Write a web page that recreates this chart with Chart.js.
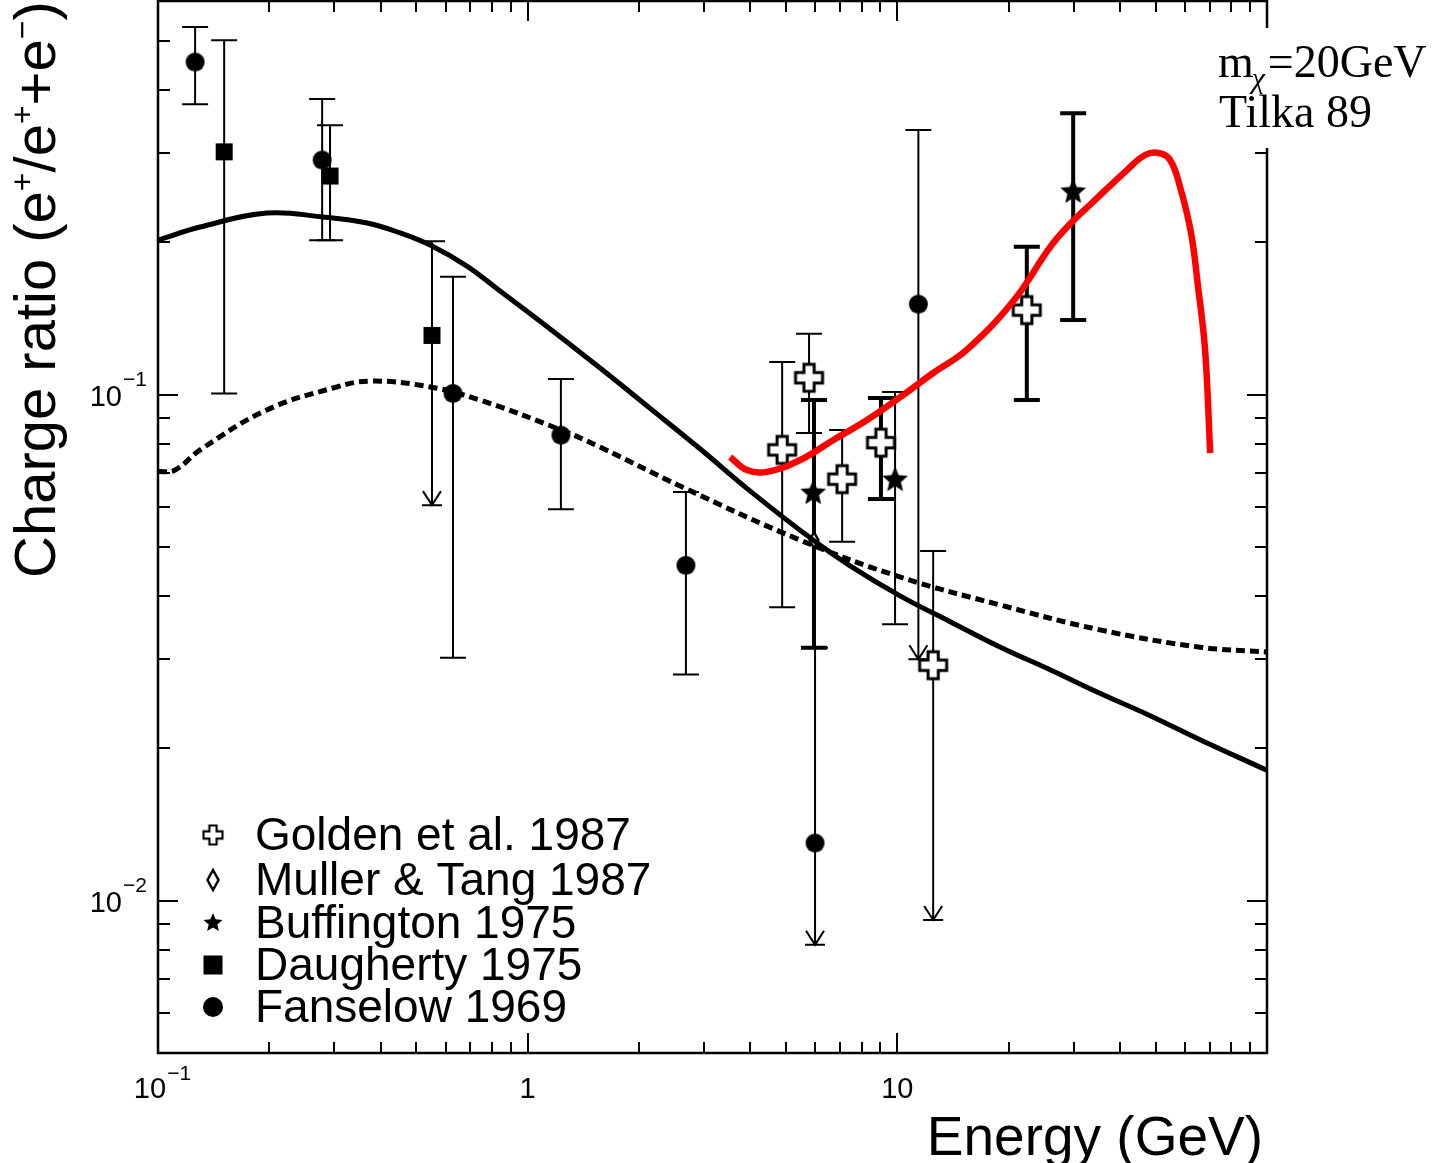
<!DOCTYPE html>
<html>
<head>
<meta charset="utf-8">
<script src="https://cdn.jsdelivr.net/npm/chart.js@4.4.0/dist/chart.umd.min.js"></script>
<style>
  html, body { margin: 0; padding: 0; background: #fff; }
</style>
</head>
<body>
<canvas id="chargeRatioChart" width="1434" height="1163"></canvas>
<script>
// ---- model curves (energy in GeV, charge ratio e+/(e+ + e-)) ----
const solidE = [0.1, 0.13, 0.197, 0.279, 0.368, 0.452, 0.551, 0.685, 0.842, 1.15, 1.57, 2.14, 2.93, 4.0, 5.92, 7.45, 10.2, 13.9, 19.0, 25.9, 35.3, 48.3, 65.9, 100];
const solidR = [0.2021, 0.2145, 0.2286, 0.2245, 0.2184, 0.2088, 0.1968, 0.1796, 0.1603, 0.1349, 0.1129, 0.0941, 0.0781, 0.0645, 0.0516, 0.0459, 0.04, 0.0356, 0.0317, 0.0286, 0.0257, 0.0232, 0.0208, 0.0181];

const dashedE = [0.1, 0.111, 0.13, 0.197, 0.2975, 0.375, 0.545, 0.743, 1.23, 1.57, 2.63, 5.46, 10.2, 19.0, 35.3, 65.9, 100];
const dashedR = [0.0705, 0.0709, 0.0778, 0.0933, 0.1031, 0.1064, 0.1036, 0.0976, 0.0852, 0.0788, 0.0656, 0.0516, 0.0436, 0.0384, 0.0343, 0.0317, 0.031];

// red curve: m_chi = 20 GeV (Tilka 89)
const redE = [3.53, 3.92, 4.44, 5.46, 6.7, 8.28, 10.2, 12.5, 15.4, 20.7, 25.9, 29.5, 33.6, 41.8, 46.8, 51.0, 54.7, 58.2, 62.3, 65.1, 68.0, 70.2];
const redR = [0.0753, 0.071, 0.0704, 0.0743, 0.0813, 0.0891, 0.099, 0.1104, 0.1226, 0.1539, 0.1958, 0.2185, 0.2393, 0.278, 0.2977, 0.3004, 0.291, 0.2573, 0.2088, 0.1632, 0.1226, 0.0767];

// ---- measurements ----
const goldenE = [4.88, 5.77, 7.09, 9.03, 12.5, 22.4];
const goldenR = [0.0778, 0.108, 0.0681, 0.0804, 0.0292, 0.147];
const goldenLo = [0.038, 0.084, 0.0512, 0.0622, 0.00916, 0.0976];
const goldenHi = [0.116, 0.132, 0.0852, 0.0985, 0.0491, 0.196];
const goldenLimit = [false, false, false, false, true, false];
const goldenThick = [false, false, false, true, false, true];

const mullerE = [5.95];
const mullerR = [0.0516];
const mullerLo = [0.0316];
const mullerHi = [0.0976];
const mullerLimit = [false];
const mullerThick = [true];

const buffE = [5.92, 9.86, 29.9];
const buffR = [0.0639, 0.0678, 0.2516];
const buffLo = [null, 0.0352, 0.1405];
const buffHi = [null, 0.1012, 0.36];
const buffLimit = [false, false, false];
const buffThick = [false, false, true];

const daughE = [0.151, 0.292, 0.551];
const daughR = [0.302, 0.2705, 0.131];
const daughLo = [0.1006, 0.202, 0.0605];
const daughHi = [0.502, 0.341, 0.201];
const daughLimit = [false, false, true];
const daughThick = [false, false, false];

const fanE = [0.126, 0.278, 0.628, 1.23, 2.68, 5.99, 11.4];
const fanR = [0.4545, 0.291, 0.1006, 0.0832, 0.046, 0.013, 0.151];
const fanLo = [0.375, 0.202, 0.0302, 0.0594, 0.028, 0.00818, 0.03];
const fanHi = [0.533, 0.384, 0.171, 0.1074, 0.0642, 0.0316, 0.3335];
const fanLimit = [false, false, false, false, false, true, true];
const fanThick = [false, false, false, false, false, false, false];

// axis
const xMin = 0.1, xMax = 100;
const yMin = 0.005, yMax = 0.6;
const xTickLabels = [{ v: 0.1, base: '10', sup: '\u22121' }, { v: 1, base: '1', sup: '' }, { v: 10, base: '10', sup: '' }];
const yTickLabels = [{ v: 0.1, base: '10', sup: '\u22121' }, { v: 0.01, base: '10', sup: '\u22122' }];

const SANS = '"Liberation Sans", Arial, sans-serif';
const SERIF = '"Liberation Serif", "Times New Roman", serif';

function pts(xs, ys) {
  return xs.map((x, i) => ({ x: x, y: ys[i] }));
}

// little canvases used as point styles
function makeSymbol(kind, size) {
  const c = document.createElement('canvas');
  c.width = size + 6;
  c.height = size + 6;
  const g = c.getContext('2d');
  const cx = c.width / 2, cy = c.height / 2, r = size / 2;
  g.fillStyle = '#000';
  g.strokeStyle = '#000';
  if (kind === 'circle') {
    g.beginPath();
    g.arc(cx, cy, r, 0, Math.PI * 2);
    g.fill();
  } else if (kind === 'square') {
    g.fillRect(cx - r, cy - r, size, size);
  } else if (kind === 'cross') {
    const a = size * 0.19;
    g.beginPath();
    g.moveTo(cx - a, cy - r); g.lineTo(cx + a, cy - r); g.lineTo(cx + a, cy - a);
    g.lineTo(cx + r, cy - a); g.lineTo(cx + r, cy + a); g.lineTo(cx + a, cy + a);
    g.lineTo(cx + a, cy + r); g.lineTo(cx - a, cy + r); g.lineTo(cx - a, cy + a);
    g.lineTo(cx - r, cy + a); g.lineTo(cx - r, cy - a); g.lineTo(cx - a, cy - a);
    g.closePath();
    g.fillStyle = '#fff';
    g.fill();
    g.lineWidth = Math.max(2, size / 9);
    g.stroke();
  } else if (kind === 'star') {
    g.beginPath();
    for (let i = 0; i < 10; i++) {
      const rr = i % 2 === 0 ? r : r * 0.45;
      const ang = -Math.PI / 2 + i * Math.PI / 5;
      const px = cx + rr * Math.cos(ang), py = cy + rr * Math.sin(ang);
      if (i === 0) g.moveTo(px, py); else g.lineTo(px, py);
    }
    g.closePath();
    g.fill();
  } else if (kind === 'diamond') {
    g.beginPath();
    g.moveTo(cx, cy - r); g.lineTo(cx + r * 0.55, cy);
    g.lineTo(cx, cy + r); g.lineTo(cx - r * 0.55, cy);
    g.closePath();
    g.fillStyle = '#fff';
    g.fill();
    g.lineWidth = 2.5;
    g.stroke();
  }
  return c;
}

const markerSeries = [
  { label: 'Golden et al. 1987', symbol: 'cross', size: 27, legendSize: 19, E: goldenE, R: goldenR, lo: goldenLo, hi: goldenHi, limit: goldenLimit, thick: goldenThick },
  { label: 'Muller & Tang 1987', symbol: 'diamond', size: 16, legendSize: 20, E: mullerE, R: mullerR, lo: mullerLo, hi: mullerHi, limit: mullerLimit, thick: mullerThick },
  { label: 'Buffington 1975', symbol: 'star', size: 27, legendSize: 20, E: buffE, R: buffR, lo: buffLo, hi: buffHi, limit: buffLimit, thick: buffThick },
  { label: 'Daugherty 1975', symbol: 'square', size: 17, legendSize: 19, E: daughE, R: daughR, lo: daughLo, hi: daughHi, limit: daughLimit, thick: daughThick },
  { label: 'Fanselow 1969', symbol: 'circle', size: 19, legendSize: 20, E: fanE, R: fanR, lo: fanLo, hi: fanHi, limit: fanLimit, thick: fanThick }
];

// index 0 is painted last (on top)
const datasets = [
  {
    label: 'm\u03c7=20GeV Tilka 89',
    type: 'line',
    data: pts(redE, redR),
    borderColor: '#ff0000',
    borderWidth: 6.5,
    pointRadius: 0,
    tension: 0.4,
    fill: false
  },
  {
    label: 'solid model',
    type: 'line',
    data: pts(solidE, solidR),
    borderColor: '#000',
    borderWidth: 5,
    pointRadius: 0,
    tension: 0.4,
    fill: false
  },
  {
    label: 'dashed model',
    type: 'line',
    data: pts(dashedE, dashedR),
    borderColor: '#000',
    borderWidth: 5,
    borderDash: [9, 5],
    pointRadius: 0,
    tension: 0.4,
    fill: false
  }
];
markerSeries.forEach(s => {
  datasets.push({
    label: s.label,
    type: 'scatter',
    data: pts(s.E, s.R),
    pointStyle: makeSymbol(s.symbol, s.size),
    pointRadius: s.size / 2,
    borderWidth: 0
  });
});

function minorValues(lo, hi) {
  const out = [];
  for (let e = Math.floor(Math.log10(lo)); e <= Math.ceil(Math.log10(hi)); e++) {
    for (let m = 1; m <= 9; m++) {
      const v = m * Math.pow(10, e);
      if (v >= lo * 0.999 && v <= hi * 1.001) out.push({ v: v, major: m === 1 });
    }
  }
  return out;
}

const chartDecor = {
  id: 'chartDecor',
  beforeDraw(chart) {
    const ctx = chart.ctx;
    ctx.save();
    ctx.fillStyle = '#fff';
    ctx.fillRect(0, 0, chart.width, chart.height);
    ctx.restore();
  },
  beforeDatasetsDraw(chart) {
    const ctx = chart.ctx;
    const xs = chart.scales.x, ys = chart.scales.y;
    const a = chart.chartArea;
    ctx.save();
    ctx.beginPath();
    ctx.rect(a.left, a.top, a.right - a.left, a.bottom - a.top);
    ctx.clip();
    ctx.strokeStyle = '#000';
    markerSeries.forEach(s => {
      s.E.forEach((e, i) => {
        if (s.lo[i] == null) return;
        const px = xs.getPixelForValue(e);
        const yHi = ys.getPixelForValue(s.hi[i]);
        const yLo = ys.getPixelForValue(s.lo[i]);
        ctx.lineWidth = s.thick[i] ? 4 : 2;
        ctx.beginPath();
        ctx.moveTo(px, yHi); ctx.lineTo(px, yLo);
        ctx.moveTo(px - 13, yHi); ctx.lineTo(px + 13, yHi);
        if (s.limit[i]) {
          ctx.moveTo(px - 10, yLo); ctx.lineTo(px + 10, yLo);
          ctx.moveTo(px - 9, yLo - 14); ctx.lineTo(px, yLo); ctx.lineTo(px + 9, yLo - 14);
        } else {
          ctx.moveTo(px - 13, yLo); ctx.lineTo(px + 13, yLo);
        }
        ctx.stroke();
      });
    });
    ctx.restore();
  },
  afterDatasetsDraw(chart) {
    const ctx = chart.ctx;
    const xs = chart.scales.x, ys = chart.scales.y;
    const a = chart.chartArea;
    ctx.save();
    ctx.strokeStyle = '#000';
    ctx.fillStyle = '#000';

    // frame
    ctx.lineWidth = 2.5;
    ctx.strokeRect(a.left, a.top, a.right - a.left, a.bottom - a.top);

    // ticks on all four sides, pointing inwards
    ctx.lineWidth = 2;
    ctx.beginPath();
    minorValues(xMin, xMax).forEach(t => {
      const px = Math.round(xs.getPixelForValue(t.v));
      const len = t.major ? 20 : 11;
      ctx.moveTo(px, a.bottom); ctx.lineTo(px, a.bottom - len);
      ctx.moveTo(px, a.top); ctx.lineTo(px, a.top + len);
    });
    minorValues(yMin, yMax).forEach(t => {
      const py = Math.round(ys.getPixelForValue(t.v));
      const len = t.major ? 20 : 12;
      ctx.moveTo(a.left, py); ctx.lineTo(a.left + len, py);
      ctx.moveTo(a.right, py); ctx.lineTo(a.right - len, py);
    });
    ctx.stroke();

    // tick labels
    xTickLabels.forEach(t => {
      const px = xs.getPixelForValue(t.v);
      ctx.font = '29px ' + SANS;
      ctx.textBaseline = 'alphabetic';
      const shift = t.sup ? -8 : 0;
      ctx.textAlign = 'center';
      ctx.fillText(t.base, px + shift, a.bottom + 45);
      if (t.sup) {
        const w = ctx.measureText(t.base).width;
        ctx.font = '21px ' + SANS;
        ctx.textAlign = 'left';
        ctx.fillText(t.sup, px + shift + w / 2 + 1, a.bottom + 27);
      }
    });
    yTickLabels.forEach(t => {
      const py = ys.getPixelForValue(t.v);
      ctx.font = '29px ' + SANS;
      ctx.textBaseline = 'alphabetic';
      ctx.textAlign = 'right';
      ctx.fillText(t.base, a.left - 36, py + 11);
      ctx.font = '21px ' + SANS;
      ctx.textAlign = 'left';
      ctx.fillText(t.sup, a.left - 35, py - 9);
    });

    // axis titles
    ctx.textAlign = 'right';
    ctx.textBaseline = 'alphabetic';
    ctx.font = '55px ' + SANS;
    ctx.fillText('Energy (GeV)', a.right - 4, a.bottom + 102);

    ctx.save();
    ctx.translate(55, 578);
    ctx.rotate(-Math.PI / 2);
    ctx.textAlign = 'left';
    const bigF = '58px ' + SANS, supF = '32px ' + SANS;
    const pieces = [
      ['Charge ratio (e', bigF, 0], ['+', supF, -22], ['/e', bigF, 0], ['+', supF, -22],
      ['+e', bigF, 0], ['\u2212', supF, -22], [')', bigF, 0]
    ];
    let cur = 0;
    pieces.forEach(p => {
      ctx.font = p[1];
      ctx.fillText(p[0], cur, p[2]);
      cur += ctx.measureText(p[0]).width;
    });
    ctx.restore();

    // legend inside the frame
    const rowY = [835, 880, 923, 965, 1007];
    ctx.font = '46px ' + SANS;
    ctx.textAlign = 'left';
    ctx.textBaseline = 'middle';
    markerSeries.forEach((s, i) => {
      const sym = makeSymbol(s.symbol, s.legendSize);
      ctx.drawImage(sym, 213 - sym.width / 2, rowY[i] - sym.height / 2);
      ctx.fillText(s.label, 255, rowY[i] + 2);
    });

    // model annotation, on a white patch over the right axis
    ctx.fillStyle = '#fff';
    ctx.fillRect(1212, 28, 222, 120);
    ctx.fillStyle = '#000';
    ctx.textBaseline = 'alphabetic';
    ctx.font = '46px ' + SERIF;
    ctx.fillText('m', 1218, 77);
    const mx = 1218 + ctx.measureText('m').width;
    ctx.font = 'italic 30px ' + SERIF;
    ctx.fillText('\u03c7', mx - 2, 88);
    ctx.font = '46px ' + SERIF;
    ctx.fillText('=20GeV', mx + 14, 77);
    ctx.fillText('Tilka 89', 1219, 127);

    ctx.restore();
  }
};

new Chart(document.getElementById('chargeRatioChart'), {
  type: 'scatter',
  data: { datasets: datasets },
  options: {
    responsive: false,
    animation: false,
    layout: { autoPadding: false, padding: { left: 158, right: 167, top: 1, bottom: 110 } },
    plugins: {
      legend: { display: false },
      tooltip: { enabled: false }
    },
    scales: {
      x: { type: 'logarithmic', min: xMin, max: xMax, display: false },
      y: { type: 'logarithmic', min: yMin, max: yMax, display: false }
    }
  },
  plugins: [chartDecor]
});
</script>
</body>
</html>
